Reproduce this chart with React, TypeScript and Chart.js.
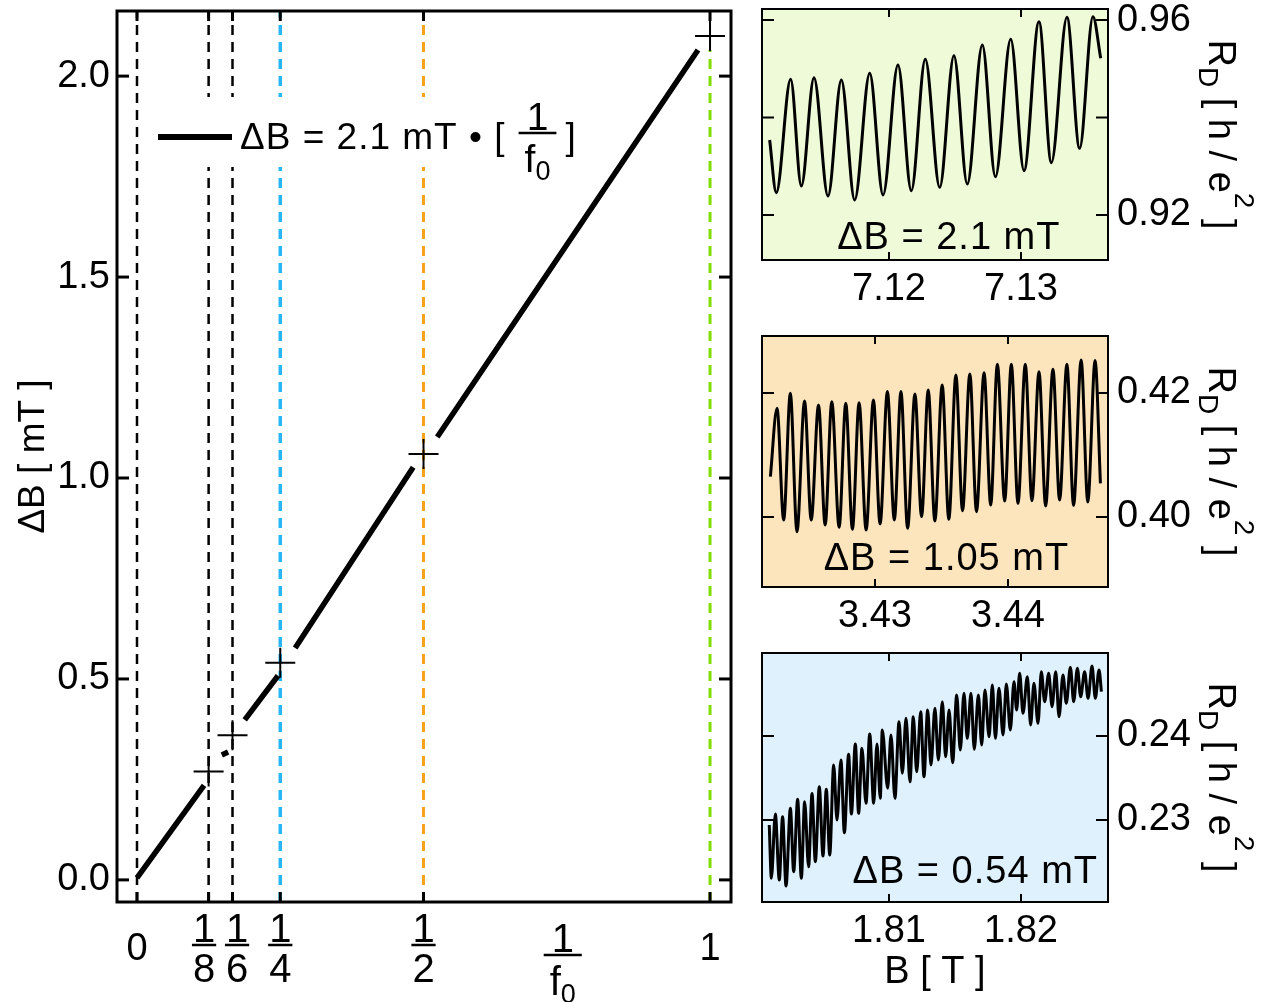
import React, { useEffect, useRef } from 'react';
import { Chart, registerables } from 'chart.js';

Chart.register(...registerables);

const FONT = "'Liberation Sans', Arial, Helvetica, sans-serif";
Chart.defaults.font.family = FONT;
Chart.defaults.color = '#000';

// ---------- main panel: ΔB versus 1/f0 ----------
// fitted line, broken (null) where it passes the measured crosses
const fitLineX = [0, 0.117, null, 0.148, 0.159, null, 0.188, 0.246, null, 0.276, 0.482, null, 0.524, 0.979];
const fitLineY = [0.005, 0.235, null, 0.311, 0.318, null, 0.398, 0.508, null, 0.577, 1.027, null, 1.102, 2.065];
// measured periods
const markerX = [1 / 8, 1 / 6, 1 / 4, 1 / 2, 1];
const markerY = [0.27, 0.36, 0.54, 1.06, 2.10];
// vertical guide lines at the filling factors
const refLineX = [0, 1 / 8, 1 / 6, 1 / 4, 1 / 2, 1];
const refLineTop = [2.162, 2.162, 2.162, 2.162, 2.162, 2.065];
const mainYTicks = [0, 0.5, 1.0, 1.5, 2.0];
const mainXTicks = [0, 1 / 8, 1 / 6, 1 / 4, 1 / 2, 1];
const mainXTickLabels = ['0', '1/8', '1/6', '1/4', '1/2', '1'];

const refLineColors = ['#000000', '#000000', '#000000', '#29b6f6', '#f7a21b', '#80dd00'];
const refLineWidths = [2.5, 2.5, 2.5, 3.5, 3, 3];

// ---------- insets: R_D(B) ----------
const greenB = [7.11096, 7.11146, 7.11255, 7.11336, 7.11432, 7.11538, 7.11639, 7.11740, 7.11854, 7.11955, 7.12068, 7.12169, 7.12275, 7.12384, 7.12492, 7.12593, 7.12707, 7.12806, 7.12922, 7.13023, 7.13136, 7.13230, 7.13348, 7.13444, 7.13545, 7.13604];
const greenR = [0.93538, 0.92458, 0.94783, 0.92595, 0.94817, 0.92390, 0.94769, 0.92308, 0.94906, 0.92410, 0.95077, 0.92499, 0.95193, 0.92568, 0.95268, 0.92636, 0.95487, 0.92786, 0.95603, 0.92909, 0.95966, 0.93074, 0.96055, 0.93368, 0.96068, 0.95214];
const greenXTicks = [7.12, 7.13];
const greenYTicks = [0.92, 0.94, 0.96];
const greenYTickLabels = ['0.92', '', '0.96'];

const orangeB = [3.42213, 3.42263, 3.42313, 3.42363, 3.42413, 3.42470, 3.42520, 3.42575, 3.42625, 3.42675, 3.42730, 3.42780, 3.42830, 3.42880, 3.42933, 3.42988, 3.43038, 3.43093, 3.43145, 3.43195, 3.43245, 3.43300, 3.43350, 3.43400, 3.43450, 3.43505, 3.43555, 3.43608, 3.43658, 3.43713, 3.43763, 3.43820, 3.43870, 3.43920, 3.43975, 3.44025, 3.44075, 3.44130, 3.44180, 3.44233, 3.44283, 3.44338, 3.44388, 3.44443, 3.44493, 3.44550, 3.44600, 3.44655, 3.44695];
const orangeR = [0.40651, 0.41753, 0.39952, 0.41995, 0.39763, 0.41871, 0.39952, 0.41806, 0.39871, 0.41860, 0.39833, 0.41833, 0.39801, 0.41844, 0.39790, 0.41887, 0.39887, 0.42022, 0.39952, 0.42022, 0.39817, 0.41984, 0.40005, 0.42048, 0.39935, 0.42129, 0.39962, 0.42290, 0.40102, 0.42306, 0.40086, 0.42328, 0.40194, 0.42462, 0.40258, 0.42462, 0.40220, 0.42462, 0.40263, 0.42344, 0.40177, 0.42382, 0.40274, 0.42462, 0.40188, 0.42532, 0.40242, 0.42522, 0.40543];
const orangeXTicks = [3.43, 3.44];
const orangeYTicks = [0.40, 0.42];
const orangeYTickLabels = ['0.40', '0.42'];

const blueB = [
  1.80093, 1.80109, 1.80139, 1.80169, 1.80194, 1.80220, 1.80253, 1.80278, 1.80308, 1.80336,
  1.80361, 1.80391, 1.80417, 1.80442, 1.80472, 1.80500, 1.80525, 1.80551, 1.80581, 1.80606,
  1.80636, 1.80662, 1.80694, 1.80715, 1.80745, 1.80770, 1.80795, 1.80826, 1.80854, 1.80884,
  1.80909, 1.80934, 1.80949, 1.80990, 1.81015, 1.81045, 1.81076, 1.81101, 1.81129, 1.81159,
  1.81184, 1.81210, 1.81240, 1.81265, 1.81293, 1.81318, 1.81348, 1.81374, 1.81404, 1.81429,
  1.81455, 1.81482, 1.81513, 1.81540, 1.81568, 1.81593, 1.81621, 1.81646, 1.81677, 1.81702,
  1.81727, 1.81758, 1.81783, 1.81806, 1.81833, 1.81864, 1.81889, 1.81919, 1.81947, 1.81967,
  1.81990, 1.82015, 1.82048, 1.82073, 1.82098, 1.82129, 1.82154, 1.82179, 1.82210, 1.82235,
  1.82263, 1.82288, 1.82318, 1.82343, 1.82374, 1.82399, 1.82427, 1.82452, 1.82482, 1.82508,
  1.82538, 1.82563, 1.82591, 1.82609,
];
const blueR = [
  0.22940, 0.22306, 0.23071, 0.22286, 0.23040, 0.22214, 0.23139, 0.22385, 0.23246, 0.22306,
  0.23218, 0.22444, 0.23317, 0.22504, 0.23397, 0.22571, 0.23365, 0.22583, 0.23655, 0.23000,
  0.23714, 0.22849, 0.23782, 0.23071, 0.23905, 0.23079, 0.23853, 0.23198, 0.24024, 0.23198,
  0.23905, 0.23258, 0.24071, 0.23377, 0.24012, 0.23258, 0.24171, 0.23556, 0.24210, 0.23456,
  0.24230, 0.23575, 0.24290, 0.23516, 0.24310, 0.23655, 0.24329, 0.23714, 0.24409, 0.23754,
  0.24310, 0.23683, 0.24488, 0.23833, 0.24508, 0.23972, 0.24508, 0.23841, 0.24488, 0.23893,
  0.24548, 0.23992, 0.24607, 0.23972, 0.24567, 0.24012, 0.24619, 0.24071, 0.24647, 0.24310,
  0.24746, 0.24270, 0.24706, 0.24131, 0.24627, 0.24151, 0.24766, 0.24409, 0.24746, 0.24349,
  0.24766, 0.24230, 0.24726, 0.24389, 0.24818, 0.24409, 0.24806, 0.24468, 0.24766, 0.24448,
  0.24833, 0.24448, 0.24786, 0.24528,
];
const blueXTicks = [1.81, 1.82];
const blueYTicks = [0.23, 0.24];
const blueYTickLabels = ['0.23', '0.24'];

// ---------- drawing helpers ----------
function setSpacing(ctx: CanvasRenderingContext2D, px: number) {
  const c = ctx as any;
  if ('letterSpacing' in c) c.letterSpacing = `${px}px`;
}

function drawFraction(
  ctx: CanvasRenderingContext2D, cx: number, barY: number,
  num: string, den: string, size: number, sub?: string,
) {
  const subSize = Math.round(size * 0.68);
  ctx.font = `${size}px ${FONT}`;
  const numW = ctx.measureText(num).width;
  const denMainW = ctx.measureText(den).width;
  let subW = 0;
  if (sub) {
    ctx.font = `${subSize}px ${FONT}`;
    subW = ctx.measureText(sub).width;
  }
  const denW = denMainW + subW;
  const w = Math.max(numW, denW) + (sub ? 12 : 2);
  ctx.fillStyle = '#000';
  ctx.textAlign = 'left';
  ctx.textBaseline = 'alphabetic';
  ctx.font = `${size}px ${FONT}`;
  ctx.fillText(num, cx - numW / 2, barY - 3);
  ctx.fillRect(cx - w / 2, barY - 1.25, w, 2.5);
  const denBase = barY + 8 + size * 0.72 + (sub ? 3 : 0);
  ctx.fillText(den, cx - denW / 2, denBase);
  if (sub) {
    ctx.font = `${subSize}px ${FONT}`;
    ctx.fillText(sub, cx - denW / 2 + denMainW, denBase + size * 0.2);
  }
  return w;
}

function drawRDTitle(ctx: CanvasRenderingContext2D, cx: number, cy: number) {
  const big = `38px ${FONT}`;
  const small = `28px ${FONT}`;
  const parts = [
    { t: 'R', f: big, dy: 0 },
    { t: 'D', f: small, dy: 10 },
    { t: ' [ h / e', f: big, dy: 0 },
    { t: '2', f: small, dy: -26 },
    { t: ' ]', f: big, dy: 0 },
  ];
  ctx.save();
  ctx.translate(cx, cy);
  ctx.rotate(Math.PI / 2);
  ctx.fillStyle = '#000';
  ctx.textAlign = 'left';
  ctx.textBaseline = 'alphabetic';
  const widths = parts.map((p) => { ctx.font = p.f; return ctx.measureText(p.t).width; });
  const total = widths.reduce((s, w) => s + w, 0);
  let x = -total / 2;
  const base = 11;
  parts.forEach((p, i) => {
    ctx.font = p.f;
    ctx.fillText(p.t, x, base + p.dy);
    x += widths[i];
  });
  ctx.restore();
}

function seg(ctx: CanvasRenderingContext2D, x0: number, y0: number, x1: number, y1: number) {
  ctx.beginPath();
  ctx.moveTo(x0, y0);
  ctx.lineTo(x1, y1);
  ctx.stroke();
}

const zeroPadding = (s: any) => {
  s.paddingTop = 0; s.paddingBottom = 0; s.paddingLeft = 0; s.paddingRight = 0;
};

// ---------- main chart ----------
const mainDecor = {
  id: 'mainDecor',
  afterDatasetsDraw(chart: any) {
    const { ctx, chartArea: a } = chart;
    // legend: ΔB = 2.1 mT • [1/f0]
    const lineY = a.top + 126;
    const lineX0 = a.left + 41;
    const lineX1 = a.left + 115;
    const text = 'ΔB = 2.1 mT • [';
    ctx.save();
    ctx.font = `37px ${FONT}`;
    setSpacing(ctx, 1);
    const textW = ctx.measureText(text).width;
    const textX = lineX1 + 8;
    const fracW = 38;
    const fracCx = textX + textW + 13 + fracW / 2;
    const closeX = fracCx + fracW / 2 + 9;
    const closeW = ctx.measureText(']').width;
    ctx.fillStyle = '#fff';
    ctx.fillRect(lineX0 - 8, lineY - 40, closeX + closeW + 17 - (lineX0 - 8), 70);
    ctx.strokeStyle = '#000';
    ctx.lineWidth = 6;
    ctx.lineCap = 'butt';
    seg(ctx, lineX0, lineY, lineX1, lineY);
    ctx.fillStyle = '#000';
    ctx.textAlign = 'left';
    ctx.textBaseline = 'alphabetic';
    ctx.fillText(text, textX, lineY + 12);
    setSpacing(ctx, 0);
    drawFraction(ctx, fracCx, lineY - 4, '1', 'f', 39, '0');
    ctx.font = `37px ${FONT}`;
    ctx.fillText(']', closeX, lineY + 12);
    ctx.restore();
  },
  afterDraw(chart: any) {
    const { ctx, chartArea: a } = chart;
    const xs = chart.scales.x;
    const ys = chart.scales.y;
    ctx.save();
    ctx.strokeStyle = '#000';
    ctx.lineWidth = 3;
    ctx.strokeRect(a.left, a.top, a.right - a.left, a.bottom - a.top);
    ys.ticks.forEach((t: any) => {
      const p = ys.getPixelForValue(t.value);
      seg(ctx, a.left, p, a.left + 12, p);
      seg(ctx, a.right, p, a.right - 12, p);
    });
    xs.ticks.forEach((t: any) => {
      const p = xs.getPixelForValue(t.value);
      seg(ctx, p, a.bottom, p, a.bottom - 10);
      seg(ctx, p, a.top, p, a.top + 10);
    });
    // tick labels, pushed apart where two fractions would touch
    const centers = mainXTicks.map((v) => xs.getPixelForValue(v));
    const minGap = 33;
    for (let i = 1; i < centers.length; i++) {
      const gap = centers[i] - centers[i - 1];
      if (gap < minGap) {
        const d = (minGap - gap) / 2;
        centers[i - 1] -= d;
        centers[i] += d;
      }
    }
    mainXTickLabels.forEach((lab, i) => {
      if (lab.includes('/')) {
        const [n, d] = lab.split('/');
        drawFraction(ctx, centers[i], a.bottom + 43, n, d, 40);
      } else {
        ctx.font = `38px ${FONT}`;
        ctx.fillStyle = '#000';
        ctx.textAlign = 'center';
        ctx.textBaseline = 'alphabetic';
        ctx.fillText(lab, centers[i], a.bottom + 58);
      }
    });
    // axis title 1/f0
    drawFraction(ctx, xs.getPixelForValue(0.743), a.bottom + 53, '1', 'f', 40, '0');
    ctx.restore();
  },
};

function mainConfig(): any {
  const datasets: any[] = [
    {
      data: markerX.map((x, i) => ({ x, y: markerY[i] })),
      pointStyle: 'cross',
      pointRadius: 15,
      pointBorderWidth: 2,
      pointBorderColor: '#000',
      pointBackgroundColor: '#000',
      showLine: false,
    },
    {
      data: fitLineX.map((x, i) => ({ x, y: fitLineY[i] })),
      showLine: true,
      spanGaps: false,
      borderColor: '#000',
      borderWidth: 5.5,
      borderCapStyle: 'butt',
      pointRadius: 0,
    },
    ...refLineX.map((x, i) => ({
      data: [{ x, y: -0.055 }, { x, y: refLineTop[i] }],
      showLine: true,
      borderColor: refLineColors[i],
      borderWidth: refLineWidths[i],
      borderDash: [10, 7],
      pointRadius: 0,
    })),
  ];
  return {
    type: 'scatter',
    data: { datasets },
    options: {
      responsive: false,
      animation: false,
      events: [],
      layout: { autoPadding: false, padding: { top: 11, right: 14, left: 0, bottom: 0 } },
      plugins: { legend: { display: false }, tooltip: { enabled: false } },
      scales: {
        x: {
          type: 'linear',
          min: -0.0349,
          max: 1.0366,
          grid: { display: false },
          border: { display: false },
          ticks: { display: false },
          afterBuildTicks: (s: any) => { s.ticks = mainXTicks.map((v) => ({ value: v })); },
          afterFit: (s: any) => { s.height = 100; zeroPadding(s); },
        },
        y: {
          type: 'linear',
          min: -0.055,
          max: 2.162,
          grid: { display: false, drawTicks: false },
          border: { display: false },
          ticks: {
            color: '#000',
            padding: 7,
            font: { size: 38, family: FONT },
            callback: (v: any) => Number(v).toFixed(1),
          },
          afterBuildTicks: (s: any) => { s.ticks = mainYTicks.map((v) => ({ value: v })); },
          afterFit: (s: any) => { s.width = 117; zeroPadding(s); },
          title: {
            display: true,
            text: 'ΔB [ mT ]',
            color: '#000',
            font: { size: 37, family: FONT, lineHeight: 1.2 },
            padding: { top: 12, bottom: 0 },
          },
        },
      },
    },
    plugins: [mainDecor],
  };
}

// ---------- inset charts ----------
type InsetSpec = {
  B: number[]; R: number[];
  xMin: number; xMax: number; yMin: number; yMax: number;
  xTicks: number[]; yTicks: number[]; yTickLabels: string[];
  label: string; bg: string;
  labelAlign: 'center' | 'right'; labelFrac: number; labelRise: number;
  padTop: number; xHeight: number; xTitle?: string;
};

function makeInsetDecor(spec: InsetSpec) {
  return {
    id: 'insetDecor',
    beforeDatasetsDraw(chart: any) {
      const { ctx, chartArea: a } = chart;
      ctx.save();
      ctx.fillStyle = spec.bg;
      ctx.fillRect(a.left, a.top, a.right - a.left, a.bottom - a.top);
      ctx.restore();
    },
    afterDraw(chart: any) {
      const { ctx, chartArea: a } = chart;
      const xs = chart.scales.x;
      const ys = chart.scales.y;
      ctx.save();
      ctx.strokeStyle = '#000';
      ctx.lineWidth = 2;
      ctx.strokeRect(a.left, a.top, a.right - a.left, a.bottom - a.top);
      ys.ticks.forEach((t: any) => {
        const p = ys.getPixelForValue(t.value);
        seg(ctx, a.left, p, a.left + 12, p);
        seg(ctx, a.right, p, a.right - 12, p);
      });
      xs.ticks.forEach((t: any) => {
        const p = xs.getPixelForValue(t.value);
        seg(ctx, p, a.top, p, a.top + 8);
        seg(ctx, p, a.bottom, p, a.bottom - 8);
      });
      ctx.font = `38px ${FONT}`;
      setSpacing(ctx, 1);
      ctx.fillStyle = '#000';
      ctx.textBaseline = 'alphabetic';
      if (spec.labelAlign === 'right') {
        ctx.textAlign = 'right';
        ctx.fillText(spec.label, a.right - 10, a.bottom - spec.labelRise);
      } else {
        ctx.textAlign = 'center';
        ctx.fillText(spec.label, a.left + spec.labelFrac * (a.right - a.left), a.bottom - spec.labelRise);
      }
      setSpacing(ctx, 0);
      drawRDTitle(ctx, a.right + 112, (a.top + a.bottom) / 2);
      ctx.restore();
    },
  };
}

function insetConfig(spec: InsetSpec): any {
  return {
    type: 'scatter',
    data: {
      datasets: [
        {
          data: spec.B.map((x, i) => ({ x, y: spec.R[i] })),
          showLine: true,
          cubicInterpolationMode: 'monotone',
          borderColor: '#000',
          borderWidth: 3,
          pointRadius: 0,
        },
      ],
    },
    options: {
      responsive: false,
      animation: false,
      events: [],
      layout: { autoPadding: false, padding: { top: spec.padTop, left: 7, right: 0, bottom: 0 } },
      plugins: { legend: { display: false }, tooltip: { enabled: false } },
      scales: {
        x: {
          type: 'linear',
          min: spec.xMin,
          max: spec.xMax,
          grid: { display: false, drawTicks: false },
          border: { display: false },
          ticks: {
            color: '#000',
            padding: 7,
            font: { size: 38, family: FONT, lineHeight: 1.2 },
            maxRotation: 0,
            callback: (v: any) => Number(v).toFixed(2),
          },
          afterBuildTicks: (s: any) => { s.ticks = spec.xTicks.map((v) => ({ value: v })); },
          afterFit: (s: any) => { s.height = spec.xHeight; zeroPadding(s); },
          title: spec.xTitle
            ? {
                display: true,
                text: spec.xTitle,
                color: '#000',
                font: { size: 38, family: FONT, lineHeight: 1.2 },
                padding: { top: 0, bottom: 7 },
              }
            : { display: false },
        },
        y: {
          type: 'linear',
          position: 'right',
          min: spec.yMin,
          max: spec.yMax,
          grid: { display: false, drawTicks: false },
          border: { display: false },
          ticks: {
            color: '#000',
            padding: 9,
            font: { size: 38, family: FONT },
            callback: (_v: any, i: number) => spec.yTickLabels[i],
          },
          afterBuildTicks: (s: any) => { s.ticks = spec.yTicks.map((v) => ({ value: v })); },
          afterFit: (s: any) => { s.width = 153; zeroPadding(s); },
        },
      },
    },
    plugins: [makeInsetDecor(spec)],
  };
}

const greenPanel: InsetSpec = {
  B: greenB, R: greenR,
  xMin: 7.11038, xMax: 7.13659, yMin: 0.91077, yMax: 0.96226,
  xTicks: greenXTicks, yTicks: greenYTicks, yTickLabels: greenYTickLabels,
  label: 'ΔB = 2.1 mT', bg: '#eefad8',
  labelAlign: 'center', labelFrac: 0.54, labelRise: 11,
  padTop: 9, xHeight: 60,
};

const orangePanel: InsetSpec = {
  B: orangeB, R: orangeR,
  xMin: 3.4215, xMax: 3.44752, yMin: 0.38871, yMax: 0.42919,
  xTicks: orangeXTicks, yTicks: orangeYTicks, yTickLabels: orangeYTickLabels,
  label: 'ΔB = 1.05 mT', bg: '#fce5bd',
  labelAlign: 'center', labelFrac: 0.533, labelRise: 17,
  padTop: 16, xHeight: 53,
};

const bluePanel: InsetSpec = {
  B: blueB, R: blueR,
  xMin: 1.80038, xMax: 1.82659, yMin: 0.22024, yMax: 0.24988,
  xTicks: blueXTicks, yTicks: blueYTicks, yTickLabels: blueYTickLabels,
  label: 'ΔB = 0.54 mT', bg: '#def1fc',
  labelAlign: 'right', labelFrac: 1, labelRise: 19,
  padTop: 13, xHeight: 100, xTitle: 'B [ T ]',
};

export default function App() {
  const mainRef = useRef<HTMLCanvasElement>(null);
  const greenRef = useRef<HTMLCanvasElement>(null);
  const orangeRef = useRef<HTMLCanvasElement>(null);
  const blueRef = useRef<HTMLCanvasElement>(null);

  useEffect(() => {
    const charts = [
      new Chart(mainRef.current as HTMLCanvasElement, mainConfig()),
      new Chart(greenRef.current as HTMLCanvasElement, insetConfig(greenPanel)),
      new Chart(orangeRef.current as HTMLCanvasElement, insetConfig(orangePanel)),
      new Chart(blueRef.current as HTMLCanvasElement, insetConfig(bluePanel)),
    ];
    return () => charts.forEach((c) => c.destroy());
  }, []);

  const abs = (left: number, top: number, width: number, height: number): React.CSSProperties => ({
    position: 'absolute', left, top, width, height,
  });

  return (
    <div style={{ position: 'absolute', left: 0, top: 0, width: 1261, height: 1002, background: '#fff', overflow: 'hidden' }}>
      <canvas ref={mainRef} width={745} height={1002} style={abs(0, 0, 745, 1002)} />
      <canvas ref={greenRef} width={506} height={320} style={abs(755, 0, 506, 320)} />
      <canvas ref={orangeRef} width={506} height={320} style={abs(755, 320, 506, 320)} />
      <canvas ref={blueRef} width={506} height={362} style={abs(755, 640, 506, 362)} />
    </div>
  );
}
